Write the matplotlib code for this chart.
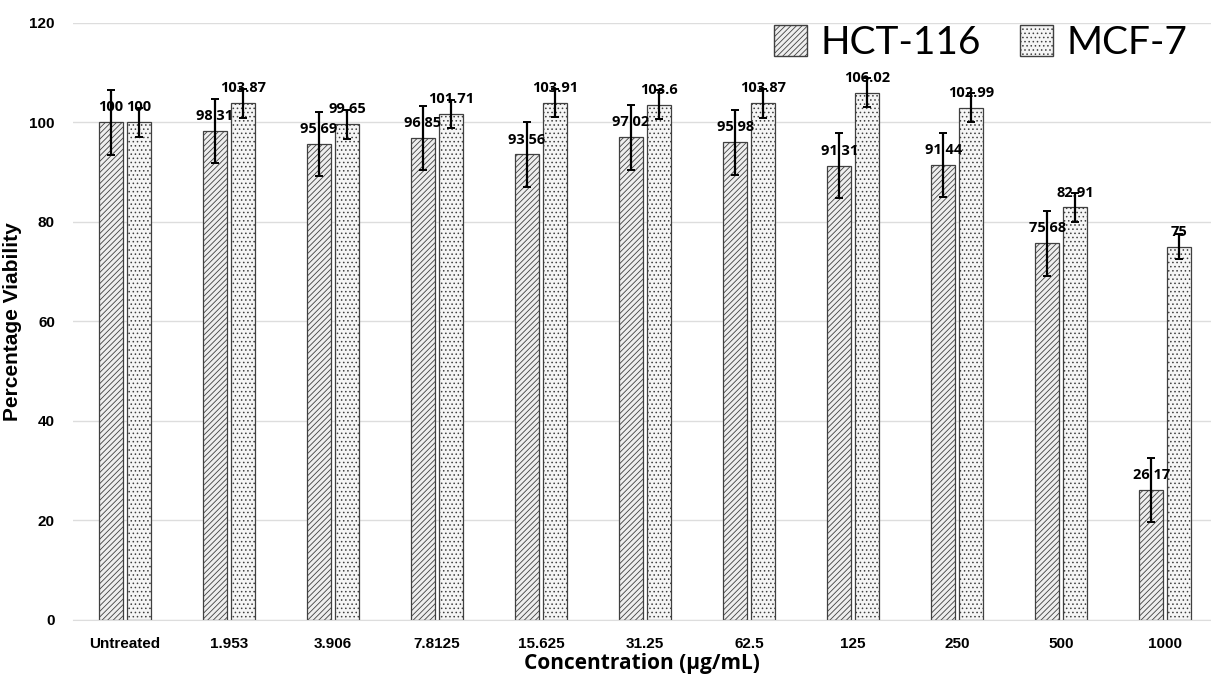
import matplotlib
matplotlib.use("Agg")
import matplotlib.pyplot as plt
import numpy as np
from matplotlib.patches import Patch

categories = ["Untreated", "1.953", "3.906", "7.8125", "15.625", "31.25",
              "62.5", "125", "250", "500", "1000"]
hct = [100, 98.31, 95.69, 96.85, 93.56, 97.02, 95.98, 91.31, 91.44, 75.68, 26.17]
mcf = [100, 103.87, 99.65, 101.71, 103.91, 103.6, 103.87, 106.02, 102.99, 82.91, 75]
hct_err = [6.5, 6.5, 6.5, 6.5, 6.5, 6.5, 6.5, 6.5, 6.5, 6.5, 6.4]
mcf_err = [2.9, 2.9, 2.9, 2.9, 2.9, 2.9, 2.9, 2.9, 2.9, 2.9, 2.5]
hct_labels = ["100", "98 31", "95 69", "96 85", "93 56", "97 02", "95 98",
              "91 31", "91 44", "75 68", "26 17"]
mcf_labels = ["100", "103.87", "99.65", "101.71", "103.91", "103.6", "103.87",
              "106.02", "102.99", "82.91", "75"]

plt.rcParams['hatch.linewidth'] = 0.6
plt.rcParams['hatch.color'] = '#4a4a4a'

fig = plt.figure(figsize=(12.11, 6.75), dpi=100)
ax = fig.add_axes([0.0603, 0.0815, 0.9397, 0.8845])

x = np.arange(len(categories))
w = 0.235
off = 0.135
ax.bar(x - off, hct, w, color='#eeeeee', edgecolor='#404040', linewidth=0.9,
       hatch='//////', zorder=2)
ax.bar(x + off, mcf, w, color='#f5f5f5', edgecolor='#404040', linewidth=0.9,
       hatch='....', zorder=2)
ax.errorbar(x - off, hct, yerr=hct_err, fmt='none', ecolor='black', elinewidth=1.6,
            capsize=3, capthick=1.4, zorder=4)
ax.errorbar(x + off, mcf, yerr=mcf_err, fmt='none', ecolor='black', elinewidth=1.6,
            capsize=3, capthick=1.4, zorder=4)

lblfont = dict(family=['Open Sans', 'DejaVu Sans'], fontsize=10.5, fontweight='bold')
for xi, v, t in zip(x - off, hct, hct_labels):
    ax.text(xi, v + 1.6, t, ha='center', va='bottom', zorder=5, **lblfont)
for xi, v, t in zip(x + off, mcf, mcf_labels):
    ax.text(xi, v + 1.6, t, ha='center', va='bottom', zorder=5, **lblfont)

ax.set_ylim(0, 120)
ax.set_xlim(-0.5, 10.44)
ax.set_yticks(range(0, 121, 20))
ax.set_xticks(x)
ax.set_xticklabels(categories, family='Liberation Sans', fontweight='bold', fontsize=11)
for lab in ax.get_yticklabels():
    lab.set_family('Liberation Sans')
    lab.set_fontweight('bold')
    lab.set_fontsize(11)
ax.tick_params(axis='x', length=0, pad=12)
ax.tick_params(axis='y', length=0, pad=13)
ax.grid(axis='y', color='#dddddd', linewidth=1, zorder=0)
ax.set_axisbelow(True)
for s in ['top', 'right', 'left']:
    ax.spines[s].set_visible(False)
ax.spines['bottom'].set_color('#dddddd')

ax.set_ylabel('Percentage Viability', family='Liberation Sans',
              fontweight='bold', fontsize=15)
ax.yaxis.set_label_coords(-0.045, 0.5)
ax.set_xlabel('Concentration (µg/mL)', family=['Open Sans', 'DejaVu Sans'],
              fontweight='bold', fontsize=15, labelpad=2)

handles = [Patch(facecolor='#eeeeee', edgecolor='#404040', hatch='//////', label='HCT-116'),
           Patch(facecolor='#f5f5f5', edgecolor='#404040', hatch='....', label='MCF-7')]
ax.legend(handles=handles, loc='upper right', bbox_to_anchor=(1.0, 1.035),
          ncol=2, frameon=False, prop={'family': 'Lato', 'size': 28},
          handlelength=0.85, handleheight=0.85, handletextpad=0.35, columnspacing=1.0,
          borderaxespad=0.2)

fig.savefig('out.png', dpi=100)
